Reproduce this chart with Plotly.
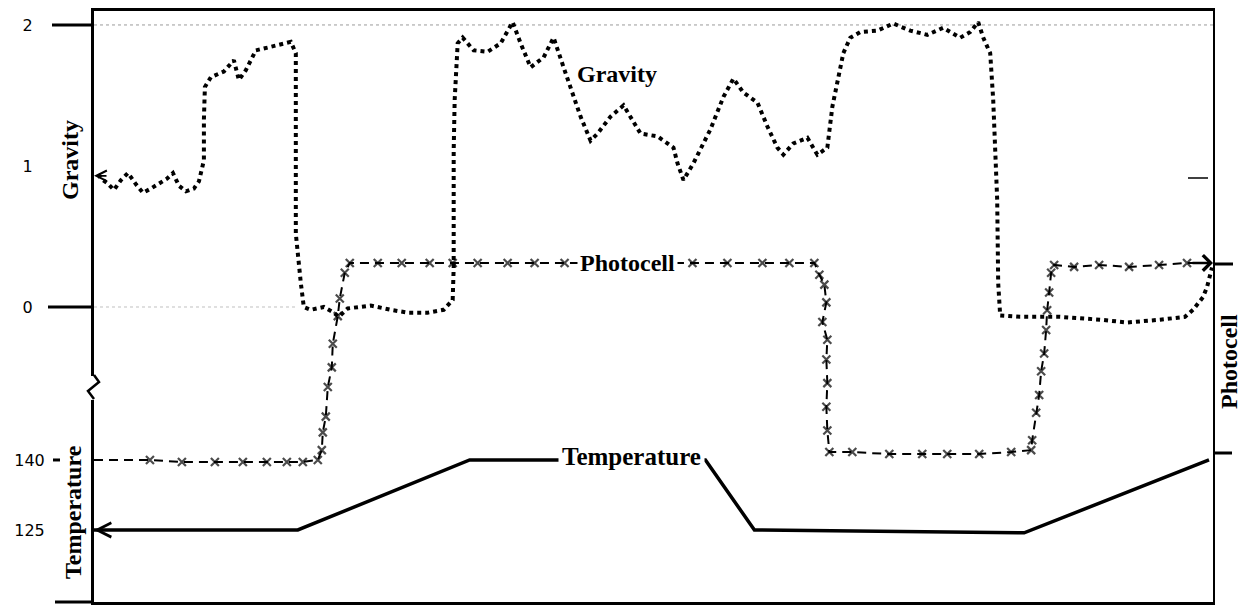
import plotly.graph_objects as go

# ---------------- data ----------------
# time axis in arbitrary units (0 .. 112)
grav_t = [0.4, 0.7, 1.3, 2.0, 2.7, 3.4, 4.2, 4.9, 5.7, 6.4,
          7.3, 7.9, 8.5, 9.2, 10.0, 10.5, 11.0, 11.0, 11.1, 11.7,
          13.0, 14.0, 14.5, 15.2, 16.2, 17.4, 18.7, 19.7, 20.2, 20.2,
          20.2, 20.7, 21.0, 21.7, 23.0, 24.0, 24.5, 25.4, 27.7, 29.7,
          31.4, 33.4, 35.0, 35.9, 36.0, 36.0, 36.1, 36.4, 36.9, 38.0,
          39.4, 40.7, 41.9, 42.7, 43.7, 45.0, 46.0, 47.0, 47.9, 48.7,
          49.7, 50.4, 51.7, 53.0, 54.7, 56.4, 58.0, 58.4, 59.0, 60.0,
          61.7, 63.0, 64.0, 65.0, 66.4, 67.4, 68.4, 69.0, 70.0, 71.4,
          72.4, 73.4, 73.9, 74.4, 75.0, 75.7, 76.7, 78.4, 80.0, 81.7,
          83.4, 85.0, 86.7, 87.7, 88.5, 89.0, 89.7, 90.0, 90.4, 90.5,
          90.7, 92.7, 96.7, 100.7, 103.4, 106.7, 109.2, 110.0, 111.0, 111.4,
          111.9]
grav_g = [0.94, 0.91, 0.88, 0.83, 0.90, 0.95, 0.87, 0.81, 0.84, 0.87,
          0.91, 0.95, 0.86, 0.82, 0.84, 0.89, 1.04, 1.33, 1.56, 1.63,
          1.67, 1.75, 1.61, 1.68, 1.82, 1.84, 1.86, 1.88, 1.80, 1.11,
          0.52, 0.17, 0.00, -0.02, 0.00, -0.04, -0.07, -0.01, 0.01, -0.02,
          -0.04, -0.04, -0.02, 0.05, 0.28, 1.11, 1.47, 1.87, 1.91, 1.82,
          1.81, 1.87, 2.02, 1.87, 1.70, 1.77, 1.91, 1.70, 1.52, 1.35,
          1.18, 1.23, 1.35, 1.43, 1.23, 1.21, 1.13, 1.02, 0.90, 1.02,
          1.26, 1.49, 1.62, 1.52, 1.45, 1.28, 1.13, 1.08, 1.16, 1.20,
          1.08, 1.13, 1.42, 1.61, 1.80, 1.91, 1.95, 1.96, 2.01, 1.96,
          1.93, 1.98, 1.91, 1.95, 2.02, 1.91, 1.80, 1.47, 0.76, 0.17,
          -0.06, -0.07, -0.07, -0.09, -0.11, -0.09, -0.07, -0.02, 0.07, 0.14,
          0.28]

photo_t = [0.0, 5.6, 8.8, 12.1, 14.9, 17.3, 19.3, 20.9, 22.4,
           22.8, 22.9, 23.2, 23.4, 23.8, 23.9, 24.4, 24.6, 25.1, 25.6,
           28.4, 30.8, 33.6, 35.9, 38.4, 41.4, 44.1, 47.1,
           59.9, 63.4, 66.9, 69.6, 72.1,
           72.6, 73.1, 73.3, 72.9, 73.4, 73.3, 73.4, 73.3, 73.4, 73.6,
           75.9, 79.6, 82.9, 85.4, 88.6, 91.8, 93.8,
           93.9, 94.3, 94.6, 94.8, 95.1, 95.3, 95.4, 95.6, 95.8, 96.1,
           98.1, 100.6, 103.6, 106.6, 109.4, 111.9]
photo_p = [0.00, 0.00, -0.01, -0.01, -0.01, -0.01, -0.01, -0.01, 0.00,
           0.05, 0.14, 0.22, 0.37, 0.47, 0.59, 0.73, 0.82, 0.95, 1.00,
           1.00, 1.00, 1.00, 1.00, 1.00, 1.00, 1.00, 1.00,
           1.00, 1.00, 1.00, 1.00, 1.00,
           0.94, 0.89, 0.80, 0.70, 0.61, 0.51, 0.39, 0.27, 0.15, 0.04,
           0.04, 0.03, 0.03, 0.03, 0.03, 0.04, 0.05,
           0.10, 0.24, 0.33, 0.45, 0.54, 0.66, 0.76, 0.85, 0.95, 0.99,
           0.98, 0.99, 0.98, 0.99, 1.00, 1.00]

temp_t = [0.0, 20.4, 37.6, 61.2, 66.1, 93.1, 111.6]
temp_c = [125, 125, 140, 140, 125, 124.4, 140]

grav_tickvals = [0, 1, 2]
grav_ticktext = ["0", "1", "2"]
temp_tickvals = [125, 140]
temp_ticktext = ["125", "140"]

# ---------------- layout geometry ----------------
W, H = 1245, 608
ML, MR, MT, MB = 94, 32, 11, 6
PW, PH = W - ML - MR, H - MT - MB


def px(x, y):
    """pixel position -> paper coordinates (for frame decorations only)"""
    return (x - ML) / PW, (H - MB - y) / PH


SERIF = "Liberation Serif"
SANS = "DejaVu Sans"

fig = go.Figure()

fig.add_trace(go.Scatter(
    x=grav_t, y=grav_g, yaxis="y", mode="lines", name="Gravity",
    line=dict(color="black", width=4, dash="4px,4px"),
    showlegend=False, hoverinfo="skip"))

marker_sizes = [0] + [8] * (len(photo_t) - 2) + [0]
fig.add_trace(go.Scatter(
    x=photo_t, y=photo_p, yaxis="y3", mode="lines+markers", name="Photocell",
    line=dict(color="black", width=2, dash="9px,6px"),
    marker=dict(symbol="x-thin", size=marker_sizes,
                line=dict(color="black", width=2.2)),
    showlegend=False, hoverinfo="skip"))

fig.add_trace(go.Scatter(
    x=temp_t, y=temp_c, yaxis="y2", mode="lines", name="Temperature",
    line=dict(color="black", width=3.5),
    showlegend=False, hoverinfo="skip"))

shapes = []
# faint guide lines at gravity 2 and 0
shapes.append(dict(type="line", xref="paper", yref="y", x0=0, x1=1, y0=2, y1=2,
                   line=dict(color="#9a9a9a", width=1, dash="dot"), layer="below"))
shapes.append(dict(type="line", xref="paper", yref="y", x0=0, x1=0.18, y0=0, y1=0,
                   line=dict(color="#c0c0c0", width=1, dash="dot"), layer="below"))
# long tick marks on the gravity scale
shapes.append(dict(type="line", xref="paper", yref="y", x0=px(52, 0)[0], x1=0,
                   y0=2, y1=2, line=dict(color="black", width=3)))
shapes.append(dict(type="line", xref="paper", yref="y", x0=px(48, 0)[0], x1=0,
                   y0=0, y1=0, line=dict(color="black", width=3)))
# short tick at temperature 140
shapes.append(dict(type="line", xref="paper", yref="y2", x0=px(53, 0)[0], x1=px(60, 0)[0],
                   y0=140, y1=140, line=dict(color="black", width=3)))
# bottom frame line extends left of the axis
bx0, by = px(55, 602)
shapes.append(dict(type="line", xref="paper", yref="paper", x0=bx0, x1=0, y0=by, y1=by,
                   line=dict(color="black", width=3)))
# axis break (zigzag) on the left axis
r0 = px(89, 376)
r1 = px(99, 400)
shapes.append(dict(type="rect", xref="paper", yref="paper", x0=r0[0], x1=r1[0],
                   y0=r1[1], y1=r0[1], fillcolor="white", line=dict(width=0),
                   layer="above"))
zz = [px(94, 375), px(99, 382), px(88, 391), px(94, 399)]
path = "M " + " L ".join(f"{a:.5f},{b:.5f}" for a, b in zz)
shapes.append(dict(type="path", xref="paper", yref="paper", path=path,
                   line=dict(color="black", width=2.5), layer="above"))
# right-side tick marks
for (xa, xb, yy, lw) in [(1213, 1233, 264, 3), (1213, 1232, 453, 3),
                         (1188, 1208, 178, 1.5)]:
    a = px(xa, yy)
    b = px(xb, yy)
    shapes.append(dict(type="line", xref="paper", yref="paper", x0=a[0], x1=b[0],
                       y0=a[1], y1=b[1], line=dict(color="black", width=lw)))

annotations = [
    # in-plot curve labels
    dict(x=52.3, y=1.65, xref="x", yref="y", text="<b>Gravity</b>", showarrow=False,
         font=dict(family=SERIF, size=24, color="black")),
    dict(x=53.4, y=1.0, xref="x", yref="y3", text="<b>Photocell</b>", showarrow=False,
         font=dict(family=SERIF, size=24, color="black"), bgcolor="white", borderpad=2),
    dict(x=53.8, y=140, xref="x", yref="y2", text="<b>Temperature</b>", showarrow=False,
         font=dict(family=SERIF, size=25, color="black"), bgcolor="white", borderpad=3,
         yshift=3),
    # axis titles
    dict(x=px(70, 0)[0], y=px(0, 160)[1], xref="paper", yref="paper", text="<b>Gravity</b>",
         textangle=-90, showarrow=False, xanchor="center", yanchor="middle",
         font=dict(family=SERIF, size=24, color="black")),
    dict(x=px(73, 0)[0], y=px(0, 512)[1], xref="paper", yref="paper",
         text="<b>Temperature</b>", textangle=-90, showarrow=False,
         xanchor="center", yanchor="middle",
         font=dict(family=SERIF, size=24, color="black")),
    dict(x=px(1229, 0)[0], y=px(0, 362)[1], xref="paper", yref="paper",
         text="<b>Photocell</b>", textangle=-90, showarrow=False,
         xanchor="center", yanchor="middle",
         font=dict(family=SERIF, size=24, color="black")),
    # arrow heads marking the curve ends
    dict(x=0, y=0.93, xref="x", yref="y", ax=14, ay=0, text="", showarrow=True,
         arrowhead=5, arrowsize=1.3, arrowwidth=1.6, arrowcolor="black"),
    dict(x=0, y=125, xref="x", yref="y2", ax=24, ay=0, text="", showarrow=True,
         arrowhead=5, arrowsize=1.4, arrowwidth=2, arrowcolor="black"),
    dict(x=112, y=1.0, xref="x", yref="y3", ax=-22, ay=0, text="", showarrow=True,
         arrowhead=4, arrowsize=1.2, arrowwidth=2.5, arrowcolor="black"),
]

tickfont = dict(family=SANS, size=16, color="black")
fig.update_layout(
    template="none",
    width=W, height=H, autosize=False,
    margin=dict(l=ML, r=MR, t=MT, b=MB, pad=0),
    paper_bgcolor="white", plot_bgcolor="white",
    showlegend=False,
    xaxis=dict(range=[0, 112], showticklabels=False, ticks="", showgrid=False,
               zeroline=False, showline=True, mirror=True, linewidth=3,
               linecolor="black"),
    yaxis=dict(range=[-2.092, 2.099], tickvals=grav_tickvals, ticktext=grav_ticktext,
               ticks="outside", ticklen=55, tickcolor="rgba(0,0,0,0)",
               showline=True, linewidth=3, linecolor="black", showgrid=False,
               zeroline=False, tickfont=tickfont),
    yaxis2=dict(range=[109.57, 236.2], overlaying="y", side="left", anchor="x",
                tickvals=temp_tickvals, ticktext=temp_ticktext,
                ticks="outside", ticklen=45, tickcolor="rgba(0,0,0,0)",
                showline=False, showgrid=False, zeroline=False, tickfont=tickfont),
    yaxis3=dict(range=[-0.721, 2.279], overlaying="y", side="right", anchor="x",
                showticklabels=False, ticks="", showline=True, linewidth=2,
                linecolor="black", showgrid=False, zeroline=False),
    shapes=shapes,
    annotations=annotations,
)

fig.write_html("out.html", config={"displayModeBar": False},
               post_script="document.body.style.margin='0';")
